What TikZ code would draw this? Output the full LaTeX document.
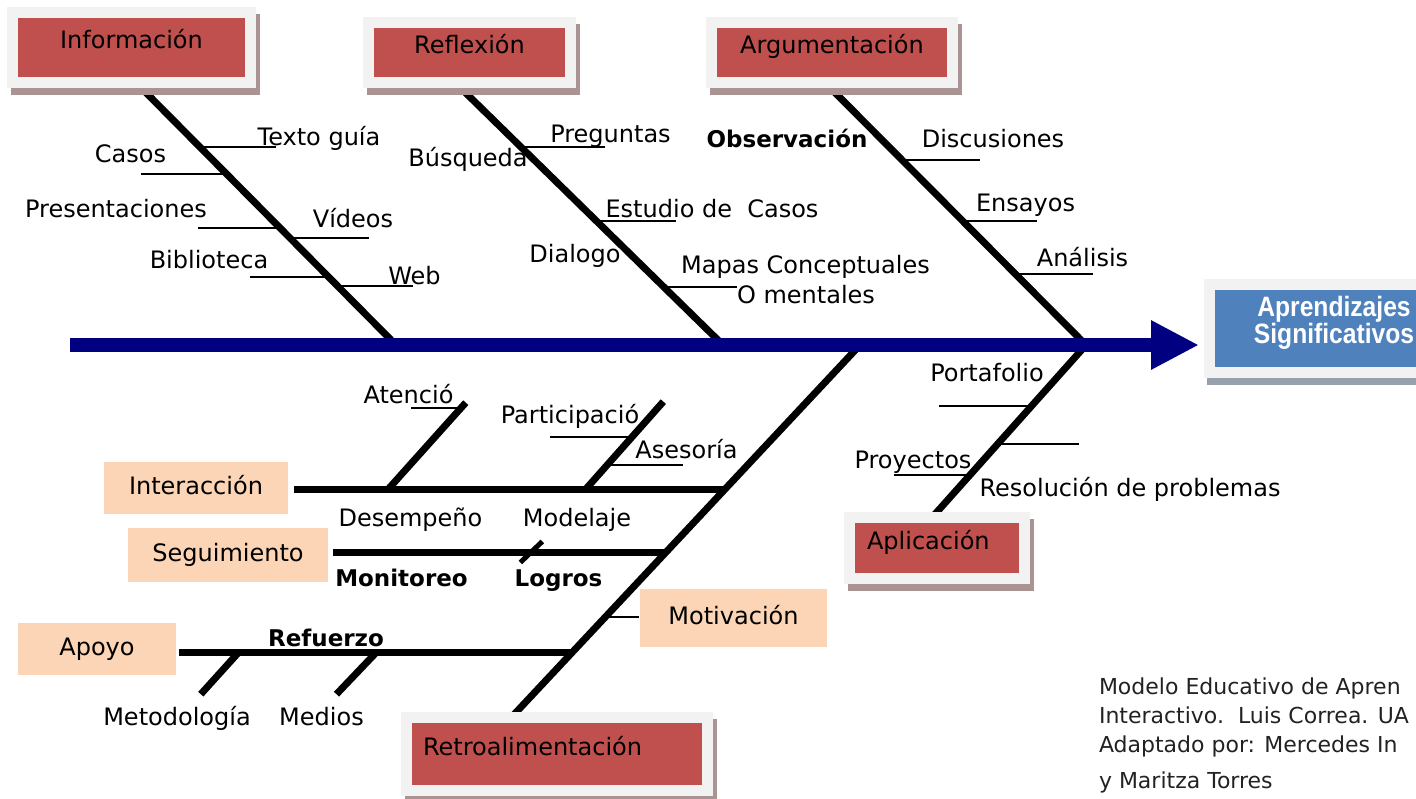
\documentclass[tikz,border=0pt]{standalone}
\usepackage{fontspec}
\setmainfont{DejaVu Sans}
\newfontfamily\narrowfont[FakeStretch=0.88]{Liberation Sans}
\usetikzlibrary{arrows.meta,backgrounds}

\definecolor{catred}{HTML}{C0504D}
\definecolor{catshade}{HTML}{A99393}
\definecolor{framegray}{HTML}{F2F2F2}
\definecolor{peach}{HTML}{FBD5B5}
\definecolor{goalblue}{HTML}{4F81BD}
\definecolor{goalshade}{HTML}{97A1AE}
\definecolor{spinenavy}{HTML}{000080}
\definecolor{citegray}{HTML}{222222}

\tikzset{every picture/.style={line width=2pt}}
\tikzset{
  lbl/.style={inner sep=0pt, text height=18pt, text depth=6pt, font=\fontsize{24}{28}\selectfont},
  blbl/.style={lbl, font=\fontsize{23}{27}\selectfont\bfseries},
  catbox/.style={fill=catred, inner sep=0pt, text height=18pt, text depth=15.5pt,
    font=\fontsize{24}{28}\selectfont,
    preaction={draw=catshade, line width=22pt, transform canvas={shift={(4pt,-7pt)}}},
    preaction={draw=framegray, line width=22pt}},
  goalbox/.style={fill=goalblue, text=white, inner sep=0pt, align=center, text depth=17.4pt,
    font=\narrowfont\bfseries\fontsize{28}{26}\selectfont,
    preaction={draw=goalshade, line width=22pt, transform canvas={shift={(3pt,-7pt)}}},
    preaction={draw=framegray, line width=22pt}},
  subbox/.style={fill=peach, inner sep=0pt, text height=18pt, text depth=4.5pt, font=\fontsize{24}{28}\selectfont},
  spine/.style={draw=spinenavy, line width=14pt, -{Triangle[length=48pt,width=46pt]}},
  bone/.style={line width=7pt},
  twig/.style={line width=2pt},
  tick/.style={line width=5pt},
  cite/.style={inner sep=0pt, align=left, text=citegray, font=\fontsize{22}{29}\selectfont},
}

\begin{document}
\begin{tikzpicture}[x=1pt,y=1pt,yscale=-1]
\useasboundingbox (0,0) rectangle (1416,798);
\clip (0,0) rectangle (1416,798);

%Shape: category boxes
\node[catbox, minimum width=227pt, minimum height=59pt] (info) at (131.5,47.5) {Información};
\node[catbox, minimum width=191pt, minimum height=49pt] (refl) at (469.5,52.5) {Reflexión};
\node[catbox, minimum width=230pt, minimum height=49pt] (argu) at (832,52.5) {Argumentación};
\node[catbox, minimum width=164pt, minimum height=50pt, text width=140pt, align=left, inner xsep=12pt] (apli) at (937,548) {Aplicación};
\node[catbox, minimum width=290pt, minimum height=62pt, text width=268pt, align=left, inner xsep=11pt] (retro) at (557,754) {Retroalimentación};
\node[goalbox, minimum width=238pt, minimum height=77pt] (goal) at (1334,328.5) {Aprendizajes\\Significativos};

%Shape: secondary boxes
\node[subbox, minimum width=184pt, minimum height=52pt] (inter) at (196,488) {Interacción};
\node[subbox, minimum width=200pt, minimum height=54pt] (segui) at (228,555) {Seguimiento};
\node[subbox, minimum width=158pt, minimum height=52pt] (apoyo) at (97,649) {Apoyo};
\node[subbox, minimum width=187pt, minimum height=58pt] (moti) at (733.5,618) {Motivación};

%Spine and junctions
\coordinate (tail) at (70,345);
\coordinate (j1) at (396,345);
\coordinate (j2) at (723,345);
\coordinate (j3) at (1086,345);
\coordinate (j4) at (860,345);
\draw[spine] (tail) -- ([xshift=-15pt]tail -| goal.west);

%Main bones (behind the boxes)
\begin{scope}[on background layer]
\draw[bone] (info.south) -- (j1) coordinate[pos=.257] (i1) coordinate[pos=.358] (i2)
  coordinate[pos=.560] (i3) coordinate[pos=.601] (i4) coordinate[pos=.746] (i5) coordinate[pos=.780] (i6);
\draw[bone] ([xshift=-19pt]refl.south) -- (j2) coordinate[pos=.257] (r1) coordinate[pos=.534] (r2) coordinate[pos=.784] (r3);
\draw[bone] ([xshift=-11.5pt]argu.south) -- (j3) coordinate[pos=.306] (g1) coordinate[pos=.534] (g2) coordinate[pos=.735] (g3);
\draw[bone] (j3) -- ([xshift=-9pt]apli.north) coordinate[pos=.343] (a1) coordinate[pos=.562] (a2) coordinate[pos=.736] (a3);
\draw[bone] (j4) -- ([xshift=-50pt]retro.north) coordinate[pos=.3836] (k1) coordinate[pos=.5503] (k2)
  coordinate[pos=.7222] (k4) coordinate[pos=.8148] (k3);
\end{scope}

%Twigs on the upper bones
\draw[twig] (i1) -- ++(77,0);
\draw[twig] (i2) -- ++(-85,0);
\draw[twig] (i3) -- ++(-82,0);
\draw[twig] (i4) -- ++(79,0);
\draw[twig] (i5) -- ++(-79,0);
\draw[twig] (i6) -- ++(75,0);
\draw[twig] (r1) -- ++(84,0);
\draw[twig] (r2) -- ++(80,0);
\draw[twig] (r3) -- ++(73,0);
\draw[twig] (g1) -- ++(78,0);
\draw[twig] (g2) -- ++(75,0);
\draw[twig] (g3) -- ++(77,0);
\draw[twig] (a1) -- ++(-93,0);
\draw[twig] (a2) -- ++(82,0);
\draw[twig] (a3) -- ++(-76,0);

%Branches on Retroalimentacion
\draw[bone] ([xshift=5pt]inter.east |- k1) -- (k1) coordinate[pos=.2178] (n1) coordinate[pos=.6766] (n2);
\draw[bone] (n1) -- ++(78,-87) coordinate[pos=.943] (n1t);
\draw[twig] (n1t) -- ++(-50,0);
\draw[bone] (n2) -- ++(78,-88) coordinate[pos=.602] (n2a) coordinate[pos=.284] (n2b);
\draw[twig] (n2a) -- ++(-82,0);
\draw[twig] (n2b) -- ++(76,0);
\draw[bone] ([xshift=4pt]segui.east |- k2) -- (k2) coordinate[pos=.596] (s1);
\draw[tick] (s1) ++(-11,10) -- ++(22,-21);
\draw[bone] ([xshift=2pt]apoyo.east |- k3) -- (k3) coordinate[pos=.152] (p1) coordinate[pos=.502] (p2);
\draw[bone] (p1) -- ++(-38,42);
\draw[bone] (p2) -- ++(-40,42);
\draw[twig] (k4) -- (moti.west |- k4);

% Text Nodes
\node[lbl] (textoguia) at (319,139) {Texto guía};
\node[lbl] (casos) at (130.5,156) {Casos};
\node[lbl] (present) at (116,211) {Presentaciones};
\node[lbl] (videos) at (353,221) {Vídeos};
\node[lbl] (biblio) at (209,262.5) {Biblioteca};
\node[lbl] (web) at (414.5,278) {Web};
\node[lbl] (pregun) at (610.5,136.5) {Preguntas};
\node[lbl] (busq) at (468,160) {Búsqueda};
\node[lbl] (estudio) at (712,211) {Estudio de\ \ Casos};
\node[lbl] (dialogo) at (575,256) {Dialogo};
\node[lbl] (mapas) at (805.5,267.5) {Mapas Conceptuales};
\node[lbl] (omental) at (806,297) {O mentales};
\node[blbl] (observ) at (787,141) {Observación};
\node[lbl] (discus) at (993,141.5) {Discusiones};
\node[lbl] (ensayos) at (1025.5,205.5) {Ensayos};
\node[lbl] (analisis) at (1082.5,260.5) {Análisis};
\node[lbl] (portaf) at (987,375) {Portafolio};
\node[lbl] (proyec) at (913,462) {Proyectos};
\node[lbl] (resol) at (1130,490) {Resolución de problemas};
\node[lbl] (atenc) at (408.5,397) {Atenció};
\node[lbl] (partic) at (570,417) {Participació};
\node[lbl] (asesor) at (686.5,452) {Asesoría};
\node[lbl] (desemp) at (410.5,520) {Desempeño};
\node[lbl] (modelaje) at (577,520) {Modelaje};
\node[blbl] (monitor) at (401.5,580) {Monitoreo};
\node[blbl] (logros) at (558.5,580) {Logros};
\node[blbl] (refuer) at (326,640) {Refuerzo};
\node[lbl] (metodo) at (177,719) {Metodología};
\node[lbl] (medios) at (321.5,719) {Medios};

% Text Node: source
\node[cite, anchor=north west] (source) at (1098,677) {Modelo Educativo de Apren\\Interactivo.\ \ Luis Correa. UA\\Adaptado por: Mercedes In\\[7pt]y Maritza Torres};

\end{tikzpicture}
\end{document}
